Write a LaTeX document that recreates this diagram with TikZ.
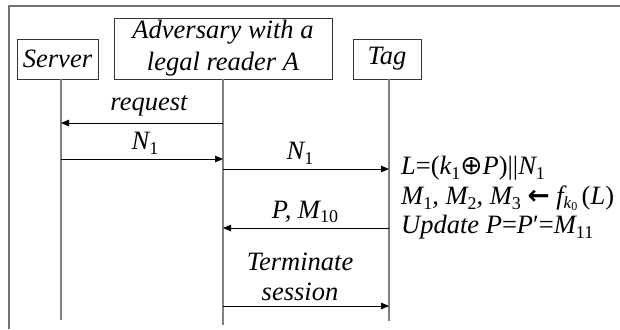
\documentclass[tikz,border=0pt]{standalone}
\usepackage{fontspec}
\setmainfont{Liberation Serif}[ItalicFont={Liberation Serif Italic}]
\newfontfamily\symfont{DejaVu Sans}
\usetikzlibrary{arrows.meta}
% upright subscript in text
\newcommand{\sbs}[1]{\raisebox{-0.18em}{\fontsize{18}{18}\selectfont\upshape #1}}
\begin{document}
\begin{tikzpicture}[x=1pt,y=-1pt,
  every node/.style={font=\fontsize{26.5}{32}\selectfont\itshape, inner sep=0pt},
  actor/.style={draw=black!80, line width=0.9pt, align=center},
  life/.style={draw=black!50, line width=1.3pt},
  msg/.style={draw=black, line width=0.9pt, -{Triangle[length=8pt,width=6.5pt]}},
  borderline/.style={draw=black!55, line width=1.2pt},
  lbl/.style={anchor=center},
  note/.style={anchor=west, align=left, font=\fontsize{26.5}{29.5}\selectfont\itshape}]
\useasboundingbox (0,0) rectangle (620,329);

% outer border
\coordinate (fb) at (9,329);
\coordinate (fc) at (9,6);
\coordinate (fr) at (620,6);
\draw[borderline] (fb) -- (fc) -- (fr);

% participants
\node[actor, minimum width=81pt, minimum height=40pt] (server) at (57.5,59) {Server};
\node[actor, minimum width=218pt, minimum height=61pt] (adv) at (223,48.5) {Adversary with a\\legal reader A};
\node[actor, minimum width=68pt, minimum height=40pt] (tag) at (387,59) {Tag};

% lifelines
\coordinate (sEnd) at (61,320);
\coordinate (aEnd) at (223,325);
\coordinate (tEnd) at (389,321);
\draw[life] (server.south -| sEnd) -- (sEnd);
\draw[life] (adv.south -| aEnd) -- (aEnd);
\draw[life] (tag.south -| tEnd) -- (tEnd);

% message end points
\coordinate (a1) at (223,123); \coordinate (s1) at (61,123);
\coordinate (s2) at (61,159);  \coordinate (a2) at (223,159);
\coordinate (a3) at (223,169); \coordinate (t3) at (389,169);
\coordinate (t4) at (389,228); \coordinate (a4) at (223,228);
\coordinate (a5) at (223,306); \coordinate (t5) at (389,306);

\draw[msg] (a1) -- (s1);
\draw[msg] (s2) -- (a2);
\draw[msg] (a3) -- (t3);
\draw[msg] (t4) -- (a4);
\draw[msg] (a5) -- (t5);

% message labels
\node[lbl] (lreq) at (149,106) {request};
\node[lbl] (ln1) at (145,143) {N\sbs{1}};
\node[lbl] (ln2) at (300,153) {N\sbs{1}};
\node[lbl] (lpm) at (305,212) {P, M\sbs{10}};
\node[lbl, align=center, font=\fontsize{26.5}{30}\selectfont\itshape] (lterm) at (300,277) {Terminate\\session};

% tag computations
\node[note] (calc) at (401,198) {L{\upshape=(}k\sbs{1}{\symfont\upshape ⊕}P{\upshape)||}N\sbs{1}\\
M\sbs{1}, M\sbs{2}, M\sbs{3} {\symfont\bfseries\upshape ←} f\raisebox{-0.15em}{\fontsize{17}{17}\selectfont k\raisebox{-0.1em}{\fontsize{12}{12}\selectfont\upshape 0}}\,{\upshape(}L{\upshape)}\\
Update P{\upshape=}P{\upshape′=}M\sbs{11}};
\end{tikzpicture}
\end{document}
